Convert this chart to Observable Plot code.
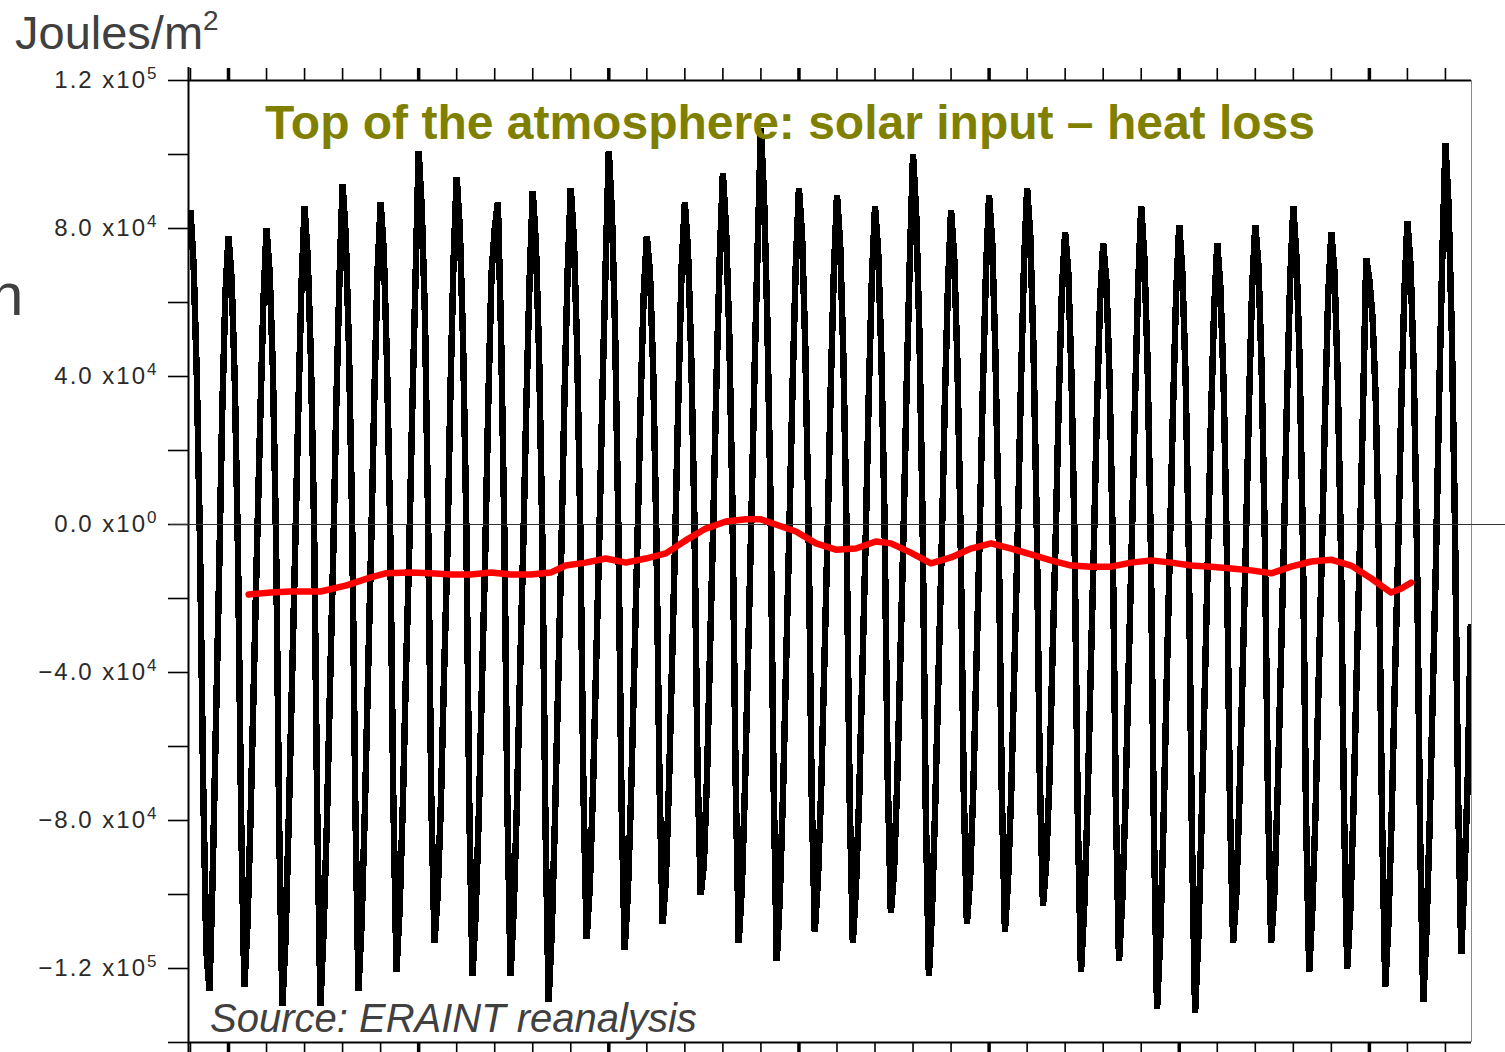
<!DOCTYPE html>
<html>
<head>
<meta charset="utf-8">
<script src="https://cdn.jsdelivr.net/npm/d3@7"></script>
<script src="https://cdn.jsdelivr.net/npm/@observablehq/plot@0.6"></script>
<style>
  html, body { margin: 0; padding: 0; background: #fff; }
  #wrap { position: relative; width: 1505px; height: 1052px; overflow: hidden; }
  #wrap svg { position: absolute; left: 0; top: 0; }
  .overlay { pointer-events: none; }
  .series-black path { shape-rendering: crispEdges; }
</style>
</head>
<body>
<div id="wrap"></div>
<script>
// Monthly net energy at the top of the atmosphere (kJ/m²), one row per year, Jan..Dec
const years = d3.range(1979, 2013);
const toaNet = [
  [85, 70, 40, -5, -70, -115, -126, -95, -55, -15, 30, 62],     // 1979
  [78, 66, 38, -8, -80, -125, -108, -78, -42, -6, 28, 60],      // 1980
  [80, 68, 42, -4, -82, -130, -112, -80, -44, -8, 30, 64],      // 1981
  [86, 72, 45, 0, -78, -130, -110, -82, -45, -10, 32, 66],      // 1982
  [92, 78, 48, 2, -75, -126, -108, -78, -42, -6, 34, 68],       // 1983
  [87, 74, 44, 0, -74, -121, -104, -76, -40, -8, 32, 66],       // 1984
  [101, 85, 56, 0, -75, -113, -100, -76, -41, -10, 35, 71],     // 1985
  [94, 80, 50, 2, -78, -122, -105, -78, -42, -8, 34, 68],       // 1986
  [80, 87, 52, 0, -76, -122, -104, -76, -40, -6, 33, 66],       // 1987
  [90, 76, 46, -2, -80, -129, -110, -80, -44, -8, 34, 68],      // 1988
  [91, 77, 48, 0, -72, -112, -98, -72, -38, -4, 36, 70],        // 1989
  [101, 84, 52, 0, -74, -115, -100, -74, -40, -6, 32, 62],      // 1990
  [78, 68, 42, -2, -70, -108, -96, -70, -36, -2, 36, 70],       // 1991
  [87, 74, 46, 2, -66, -100, -92, -68, -32, 2, 40, 72],         // 1992
  [95, 80, 52, 6, -68, -113, -98, -70, -34, 2, 42, 76],         // 1993
  [107, 88, 56, 8, -70, -118, -100, -72, -36, 0, 38, 70],       // 1994
  [91, 78, 48, 2, -72, -110, -96, -72, -38, -4, 36, 68],        // 1995
  [89, 76, 46, 0, -74, -113, -98, -74, -40, -6, 34, 66],        // 1996
  [86, 74, 46, 2, -68, -105, -94, -70, -36, -2, 38, 72],        // 1997
  [100, 84, 52, 2, -76, -122, -104, -76, -42, -8, 32, 64],      // 1998
  [85, 72, 44, -2, -72, -108, -96, -72, -38, -4, 36, 68],       // 1999
  [89, 76, 46, 0, -72, -110, -96, -72, -38, -4, 36, 70],        // 2000
  [91, 78, 48, 2, -68, -103, -92, -70, -36, -4, 34, 64],        // 2001
  [79, 68, 40, -6, -80, -121, -104, -78, -42, -8, 30, 60],      // 2002
  [76, 66, 40, -4, -76, -118, -102, -76, -40, -6, 32, 64],      // 2003
  [86, 72, 44, -4, -82, -131, -112, -82, -44, -8, 30, 62],      // 2004
  [81, 68, 40, -6, -84, -132, -112, -82, -46, -10, 28, 58],     // 2005
  [76, 64, 38, -6, -76, -113, -100, -74, -40, -6, 32, 64],      // 2006
  [81, 70, 42, -4, -74, -113, -100, -74, -40, -6, 34, 66],      // 2007
  [86, 72, 44, -4, -78, -121, -104, -78, -42, -8, 30, 62],      // 2008
  [79, 68, 40, -6, -78, -120, -104, -76, -40, -6, 32, 72],      // 2009
  [66, 56, 34, -8, -80, -125, -108, -80, -44, -10, 30, 62],     // 2010
  [82, 70, 42, -6, -84, -129, -110, -82, -46, -10, 34, 72],     // 2011
  [103, 86, 52, 0, -74, -116, -95, -70, -27]                    // 2012 (to Sep)
];

// Running annual mean (kJ/m²)
const meanTime = [1980.53, 1981.11, 1981.63, 1982.42, 1983.08, 1983.74, 1984.13, 1984.79, 1985.32, 1985.84,
  1986.37, 1986.90, 1987.42, 1987.95, 1988.47, 1988.87, 1989.39, 1989.92, 1990.45, 1990.97,
  1991.50, 1992.02, 1992.55, 1993.08, 1993.60, 1994.00, 1994.39, 1994.92, 1995.45, 1995.97,
  1996.50, 1997.02, 1997.42, 1997.94, 1998.47, 1999.00, 1999.52, 2000.05, 2000.58, 2001.10,
  2001.63, 2002.16, 2002.68, 2003.21, 2003.73, 2004.26, 2004.79, 2005.31, 2005.84, 2006.37,
  2006.89, 2007.42, 2007.94, 2008.47, 2008.99, 2009.52, 2010.05, 2010.57, 2010.84, 2011.10];
const meanValue = [-18.9, -18.4, -18.1, -18.1, -16.5, -14.3, -13.2, -13.0, -13.2, -13.5,
  -13.5, -13.0, -13.5, -13.5, -13.0, -11.1, -10.3, -9.2, -10.3, -9.2,
  -7.8, -4.3, -1.1, 0.8, 1.4, 1.4, 0.0, -1.9, -5.1, -6.8,
  -6.5, -4.6, -5.1, -7.6, -10.5, -8.9, -6.5, -5.1, -6.5, -8.1,
  -9.7, -11.1, -11.4, -11.4, -10.3, -9.7, -10.3, -11.1, -11.4, -11.9,
  -12.4, -13.2, -11.4, -10.0, -9.5, -11.1, -14.6, -18.4, -17.3, -15.7];

// Axis settings
const xDomain = [1978.948, 2012.685];
const yDomain = [-140, 120];
const yMinorTicks = d3.range(-140, 121, 20);
const yLabelValues = [120, 80, 40, 0, -40, -80, -120];
const yTickLabels = ["1.2 x10^5", "8.0 x10^4", "4.0 x10^4", "0.0 x10^0",
                     "\u22124.0 x10^4", "\u22128.0 x10^4", "\u22121.2 x10^5"];
const majorYears = years.filter(y => y % 5 === 0);

const monthly = years.flatMap((y, i) => toaNet[i].map((v, m) => ({t: y + m / 12, v})));
const running = meanTime.map((t, i) => ({t, v: meanValue[i]}));
const labelOf = new Map(yLabelValues.map((v, i) => [v, yTickLabels[i]]));
const blank = () => "";

const chart = Plot.plot({
  width: 1505,
  height: 1052,
  marginLeft: 188,
  marginRight: 34,
  marginTop: 80,
  marginBottom: 10,
  x: {domain: xDomain, axis: null},
  y: {domain: yDomain, axis: null},
  style: {background: "transparent", overflow: "visible", fontFamily: "'Liberation Sans', Arial, sans-serif"},
  marks: [
    // year ticks, top and bottom
    Plot.axisX(years, {anchor: "top", tickSize: 13, strokeWidth: 1.6, tickFormat: blank, label: null}),
    Plot.axisX(majorYears, {anchor: "top", tickSize: 13, strokeWidth: 3.5, tickFormat: blank, label: null}),
    Plot.axisX(years, {anchor: "bottom", tickSize: 13, strokeWidth: 1.6, tickFormat: blank, label: null}),
    Plot.axisX(majorYears, {anchor: "bottom", tickSize: 13, strokeWidth: 3.5, tickFormat: blank, label: null}),
    // value ticks and labels on the left
    Plot.axisY(yMinorTicks, {anchor: "left", tickSize: 20, strokeWidth: 1.6, tickFormat: blank, label: null}),
    Plot.axisY(yLabelValues, {anchor: "left", tickSize: 0, tickPadding: 30, tickFormat: d => labelOf.get(d),
      fontSize: 24, fill: "#2a2a2a", label: null}),
    // frame
    Plot.ruleY([yDomain[1]], {stroke: "#000", strokeWidth: 2}),
    Plot.ruleY([yDomain[0]], {stroke: "#000", strokeWidth: 2}),
    Plot.ruleX([xDomain[0]], {stroke: "#000", strokeWidth: 2, insetTop: -13, insetBottom: -10}),
    Plot.ruleX([xDomain[1]], {stroke: "#8a8a8a", strokeWidth: 1}),
    // monthly series
    Plot.line(monthly, {x: "t", y: "v", stroke: "#000", strokeWidth: 6.5, strokeLinejoin: "bevel",
      strokeLinecap: "butt", clip: true, className: "series-black"}),
    // zero line, running across to the edge
    Plot.ruleY([0], {stroke: "#333", strokeWidth: 1, insetRight: -34, insetLeft: -18}),
    // running mean
    Plot.line(running, {x: "t", y: "v", stroke: "#ff0000", strokeWidth: 6.5, strokeLinejoin: "round",
      strokeLinecap: "round"})
  ]
});

const wrap = document.getElementById("wrap");
wrap.appendChild(chart);

// y tick labels: mantissa plus a raised power of ten
d3.select(chart).selectAll("g[aria-label='y-axis tick label'] text").each(function() {
  const [base, power] = this.textContent.split("^");
  const t = d3.select(this).text(null).attr("letter-spacing", 2);
  t.append("tspan").text(base);
  t.append("tspan").attr("font-size", 17).attr("dy", -9).text(power);
});

// Text around and over the plot
const overlay = d3.select(wrap).append("svg")
  .attr("class", "overlay")
  .attr("width", 1505).attr("height", 1052)
  .style("font-family", "'Liberation Sans', Arial, sans-serif");

const unit = overlay.append("text").attr("x", 15).attr("y", 49)
  .attr("font-size", 47).attr("fill", "#404040");
unit.append("tspan").text("Joules/m");
unit.append("tspan").attr("font-size", 28).attr("dy", -19).text("2");

overlay.append("text").attr("x", -10).attr("y", 315)
  .attr("font-size", 60).attr("fill", "#404040").text("n");

overlay.append("text").attr("x", 790).attr("y", 139).attr("text-anchor", "middle")
  .attr("font-size", 48).attr("font-weight", "bold").attr("fill", "#808000")
  .text("Top of the atmosphere: solar input \u2013 heat loss");

overlay.append("text").attr("x", 210).attr("y", 1032)
  .attr("font-size", 40).attr("font-style", "italic").attr("fill", "#404040")
  .text("Source: ERAINT reanalysis");
</script>
</body>
</html>
